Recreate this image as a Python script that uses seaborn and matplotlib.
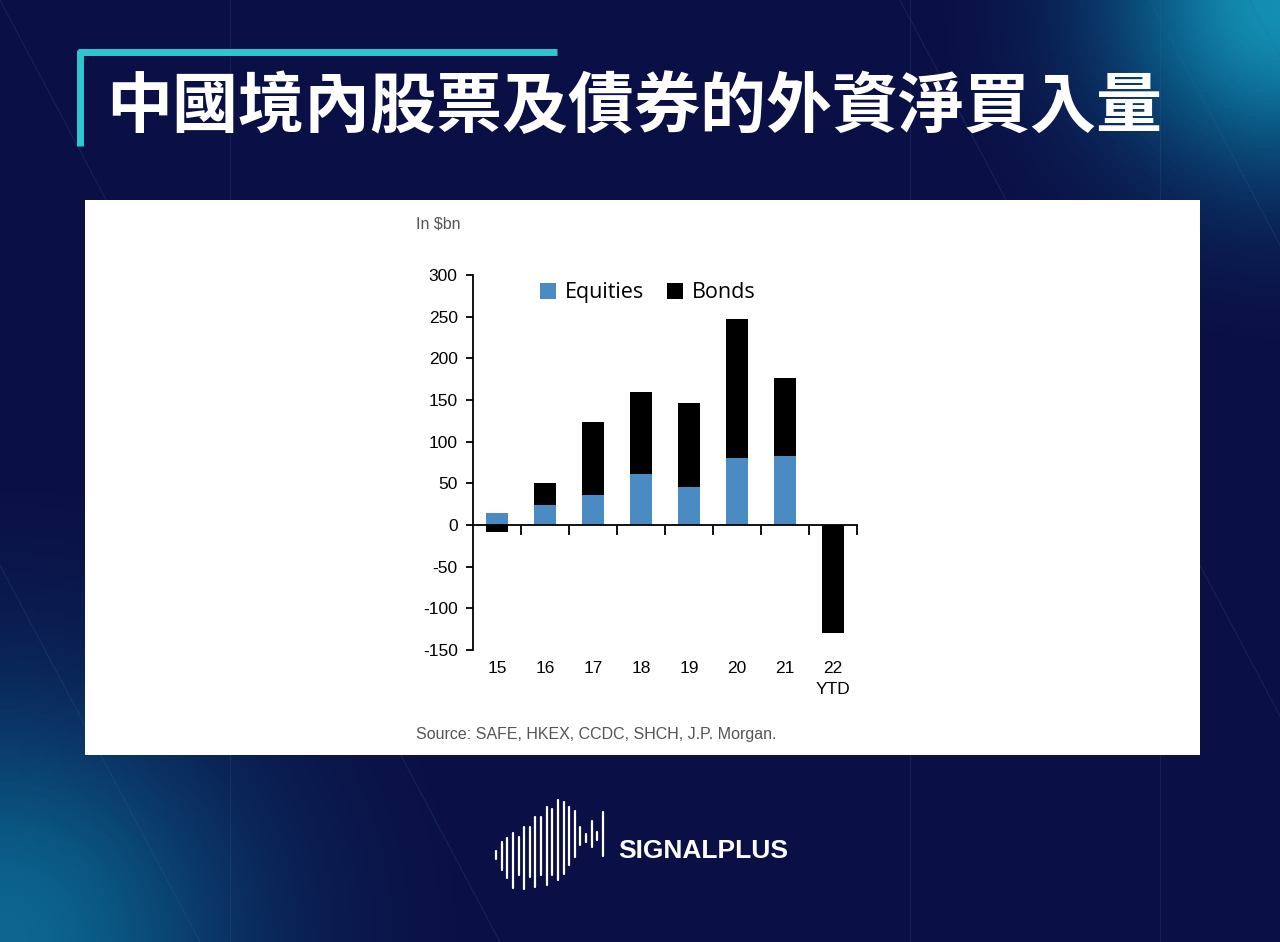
import numpy as np
import pandas as pd
import matplotlib
matplotlib.use("Agg")
import matplotlib.pyplot as plt
from matplotlib.patches import Rectangle, Patch
import seaborn as sns

# data (in $bn)
years = ["15", "16", "17", "18", "19", "20", "21", "22\nYTD"]
equities = [15, 24, 36, 61, 46, 80, 83, 0]
bonds = [-8, 26, 88, 99, 101, 167, 94, -129]

title = "中國境內股票及債券的外資淨買入量"
unit_label = "In $bn"
source = "Source: SAFE, HKEX, CCDC, SHCH, J.P. Morgan."

# logo bar heights (px) and vertical centres (px from top)
logo_h = [8, 28, 40, 55, 38, 62, 50, 70, 58, 78, 66, 80, 72, 58, 46, 18, 8, 26, 8, 44]
logo_c = [855, 856, 858, 860, 856, 858, 852, 852, 846, 846, 842, 840, 838, 836, 834, 836, 838, 834, 836, 834]

BG = "#0a0f45"
BLUE = "#4a8bc3"
CYAN = "#2fc6d0"

df = pd.DataFrame({"year": years, "equities": equities, "bonds": bonds})
# bonds stack on top of equities when positive, hang below zero when negative
df["bond_top"] = np.where(df["bonds"] > 0, df["equities"] + df["bonds"], df["bonds"])

sns.set_style("white")
plt.rcParams["font.family"] = ["Liberation Sans", "DejaVu Sans"]
plt.rcParams["axes.unicode_minus"] = False

W, H = 1280, 942
fig = plt.figure(figsize=(W / 100, H / 100), dpi=100, facecolor=BG)

# background with soft glows and faint diagonal lines
bg = fig.add_axes([0, 0, 1, 1], zorder=-10)
bg.set_xlim(0, W)
bg.set_ylim(H, 0)
bg.axis("off")
yy, xx = np.mgrid[0:H:4, 0:W:4]
glow = np.exp(-(((xx - 1280) ** 2 + (yy - 0) ** 2) / (2 * 120 ** 2))) * 0.8
glow += np.exp(-(((xx - 0) ** 2 + (yy - 942) ** 2) / (2 * 170 ** 2))) * 0.55
bg.imshow(glow, extent=[0, W, H, 0], cmap=sns.blend_palette([BG, "#0b5f8a", "#1ab0d0"], as_cmap=True),
          vmin=0, vmax=1, aspect="auto", zorder=0)
for x0 in [-300, 0, 900, 1150, 1250]:
    bg.plot([x0, x0 + 500], [0, H], color="#3a5fa0", lw=0.6, alpha=0.3, zorder=1)
for x0 in [230, 910, 1160]:
    bg.plot([x0, x0], [0, H], color="#3a5fa0", lw=0.6, alpha=0.25, zorder=1)

# title bracket
bg.plot([78, 557], [52, 52], color=CYAN, lw=5, solid_capstyle="butt", zorder=2)
bg.plot([80, 80], [50, 146], color=CYAN, lw=5, solid_capstyle="butt", zorder=2)
bg.text(106, 108, title, color="white", fontsize=47.5, fontweight="bold",
        family=["Noto Sans CJK TC", "DejaVu Sans"], va="center", ha="left", zorder=3)

# white panel
bg.add_patch(Rectangle((85, 200), 1115, 555, facecolor="white", edgecolor="none", zorder=2))
bg.text(416, 224, unit_label, color="#555555", fontsize=11.5, va="center", ha="left", zorder=3)
bg.text(416, 734, source, color="#555555", fontsize=11.5, va="center", ha="left", zorder=3)

# logo
lx = np.linspace(496, 603, len(logo_h))
for x, h, c in zip(lx, logo_h, logo_c):
    bg.plot([x, x], [c - h / 2, c + h / 2], color="white", lw=1.6, zorder=3)
bg.text(618, 851, "SIGNALPLUS", color="white", fontsize=19, fontweight="bold",
        va="center", ha="left", zorder=3)

# chart
ax = fig.add_axes([473 / W, 1 - 650 / H, 384 / W, 375 / H])
ax.set_facecolor("none")
sns.barplot(data=df, x="year", y="bond_top", color="black", width=0.45,
            saturation=1, linewidth=0, edgecolor="none", ax=ax, zorder=2)
sns.barplot(data=df, x="year", y="equities", color=BLUE, width=0.45,
            saturation=1, linewidth=0, edgecolor="none", ax=ax, zorder=3)

ax.set_xlim(-0.5, len(years) - 0.5)
ax.set_ylim(-150, 300)
ax.set_yticks(np.arange(-150, 301, 50))
ax.set_xlabel("")
ax.set_ylabel("")

for s in ["top", "right"]:
    ax.spines[s].set_visible(False)
ax.spines["left"].set_color("black")
ax.spines["left"].set_linewidth(1.3)
ax.spines["bottom"].set_position(("data", 0))
ax.spines["bottom"].set_color("black")
ax.spines["bottom"].set_linewidth(1.3)
ax.spines["bottom"].set_zorder(4)

ax.tick_params(axis="y", direction="out", length=5, width=1.3, pad=6,
               labelsize=12.5, left=True, color="black", labelcolor="black")
ax.set_xticks(np.arange(0.5, len(years) - 0.4, 1), minor=True)
ax.tick_params(axis="x", which="minor", direction="out", length=7, width=1.3, bottom=True, color="black")
ax.tick_params(axis="x", which="major", length=0, pad=98, labelsize=12.5, labelcolor="black")
ax.set_xticklabels(years, linespacing=1.45)

handles = [Patch(facecolor=BLUE, edgecolor="none", label="Equities"),
           Patch(facecolor="black", edgecolor="none", label="Bonds")]
ax.legend(handles=handles, loc="center", bbox_to_anchor=(0.455, 0.953), ncol=2,
          frameon=False, handlelength=0.75, handleheight=0.75, handletextpad=0.4,
          columnspacing=1.1, labelcolor="black",
          prop={"family": ["Open Sans", "DejaVu Sans"], "size": 15.5})

fig.savefig("out.png", dpi=100, facecolor=BG)
